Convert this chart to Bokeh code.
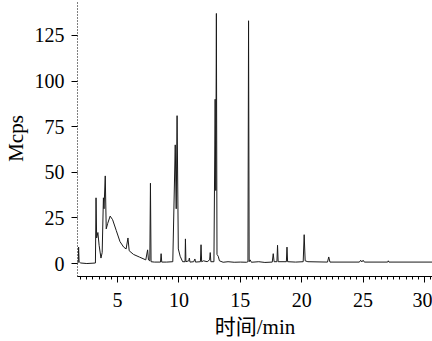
from bokeh.plotting import figure
from bokeh.models import Range1d, FixedTicker
from bokeh.embed import file_html
from bokeh.resources import INLINE

# Chromatogram: retention time (min) and intensity (Mcps)
time_min = [1.70, 1.80, 1.83, 1.87, 2.00, 2.50, 3.00, 3.20, 3.25, 3.30, 3.40, 3.50, 3.65,
            3.75, 3.85, 3.90, 4.00, 4.08, 4.20, 4.40, 4.60, 4.90, 5.20, 5.50, 5.70, 5.85,
            5.95, 6.30, 6.80, 7.30, 7.45, 7.52, 7.63, 7.68, 7.73, 8.00, 8.50, 8.55, 8.60,
            9.00, 9.50, 9.70, 9.78, 9.85, 9.95, 10.10, 10.30, 10.50, 10.53, 10.57, 10.80,
            10.85, 10.90, 11.20, 11.30, 11.35, 11.75, 11.80, 11.85, 12.00, 12.30, 12.50,
            12.55, 12.60, 12.85, 12.95, 13.00, 13.05, 13.10, 13.20, 13.30, 13.60, 14.00,
            14.50, 15.00, 15.50, 15.62, 15.67, 15.72, 15.80, 15.90, 16.50, 17.00, 17.60,
            17.68, 17.75, 17.98, 18.03, 18.08, 18.75, 18.80, 18.85, 19.50, 20.12, 20.20,
            20.28, 20.50, 22.10, 22.20, 22.30, 24.70, 24.80, 24.90, 25.00, 25.10, 27.00,
            27.05, 27.10, 31.00]
intensity = [0.5, 0.5, 9.0, 1.0, 0.3, 0.0, 0.2, 0.3, 36.0, 14.0, 17.0, 10.0, 3.0,
             6.0, 36.0, 30.0, 48.0, 19.0, 22.0, 26.0, 24.0, 18.0, 12.0, 9.0, 8.0, 14.0,
             7.0, 5.0, 3.5, 2.0, 7.5, 2.0, 1.5, 44.0, 1.0, 0.8, 0.8, 5.4, 0.8,
             0.8, 1.0, 65.0, 30.0, 81.0, 8.0, 4.0, 1.0, 1.0, 13.5, 1.0, 1.5,
             3.0, 0.8, 1.0, 2.5, 0.8, 1.0, 10.3, 1.0, 1.5, 1.0, 2.0,
             6.0, 1.0, 1.0, 90.0, 40.0, 137.0, 5.0, 4.0, 1.5, 0.7, 1.0,
             0.7, 0.8, 0.7, 1.0, 133.0, 1.0, 2.0, 0.7, 1.0, 0.6, 0.8,
             5.4, 1.0, 1.0, 10.0, 1.0, 1.0, 9.0, 1.0, 0.8, 1.0, 15.8,
             1.5, 1.0, 0.8, 3.6, 0.8, 0.8, 1.8, 0.9, 1.8, 0.8, 0.8,
             1.5, 0.8, 0.8]

x_ticks = [5, 10, 15, 20, 25, 30]
y_ticks = [0, 25, 50, 75, 100, 125]
x_label = "时间/min"
y_label = "Mcps"

SERIF = "'Liberation Serif', 'Noto Sans CJK SC'"

p = figure(width=432, height=341, output_backend="svg", toolbar_location=None,
           x_range=Range1d(1.74, 30.65), y_range=Range1d(-7.1, 144.1),
           min_border_left=77, min_border_right=0, min_border_top=0, min_border_bottom=64)
p.outline_line_color = None
p.grid.visible = False
p.background_fill_color = "white"
p.border_fill_color = "white"

p.line(time_min, intensity, line_color="#1a1a1a", line_width=1)

xa = p.xaxis[0]
xa.ticker = FixedTicker(ticks=x_ticks, minor_ticks=[1.5 + 0.5 * i for i in range(60)])
xa.major_tick_out = 6
xa.major_tick_in = 0
xa.minor_tick_out = 3
xa.minor_tick_in = 0
xa.axis_line_color = "black"
xa.major_tick_line_color = "black"
xa.minor_tick_line_color = "black"
xa.major_label_text_font = SERIF
xa.major_label_text_font_size = "20px"
xa.major_label_text_color = "black"
xa.major_label_standoff = 10
xa.axis_label = x_label
xa.axis_label_text_font = SERIF
xa.axis_label_text_font_size = "21px"
xa.axis_label_text_font_style = "normal"
xa.axis_label_text_color = "black"
xa.axis_label_standoff = 5

ya = p.yaxis[0]
ya.ticker = FixedTicker(ticks=y_ticks, minor_ticks=[])
ya.axis_line_color = "black"
ya.axis_line_dash = "1 2"
ya.major_tick_out = 6
ya.major_tick_in = 0
ya.major_tick_line_color = "black"
ya.major_label_text_font = SERIF
ya.major_label_text_font_size = "20px"
ya.major_label_text_color = "black"
ya.major_label_standoff = 7
ya.axis_label = y_label
ya.axis_label_text_font = SERIF
ya.axis_label_text_font_size = "21px"
ya.axis_label_text_font_style = "normal"
ya.axis_label_text_color = "black"
ya.axis_label_standoff = 4

open("out.html", "w").write(file_html(p, INLINE))
